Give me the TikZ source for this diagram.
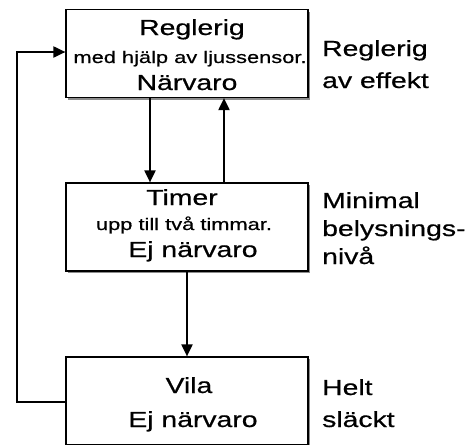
\documentclass[tikz,border=0pt]{standalone}
\usepackage{fontspec}
\usepackage{graphicx}
\setmainfont[FakeBold=0.5]{Liberation Sans}
\usetikzlibrary{arrows.meta,shadows}
\newcommand{\bigtxt}{\fontsize{21.8}{26}\selectfont}
\newcommand{\smalltxt}{\fontsize{16.8}{20}\selectfont}
% the lettering is set a little wider than the plain font
\newcommand{\wide}[1]{\scalebox{1.3}[1]{#1}}
\begin{document}
\begin{tikzpicture}[x=1pt,y=-1pt,
  statebox/.style={draw=black, line width=1.2pt, fill=white, inner sep=0pt,
    minimum width=242pt, minimum height=88pt,
    drop shadow={shadow xshift=2pt, shadow yshift=-2pt, fill=black!45, opacity=1}},
  bigline/.style={anchor=base, inner sep=0pt, font=\bigtxt},
  smallline/.style={anchor=base, inner sep=0pt, font=\smalltxt},
  sidetxt/.style={anchor=base west, inner sep=0pt, font=\bigtxt},
  flow/.style={line width=2pt, -{Triangle[length=12pt,width=11pt]}}]
\useasboundingbox (0,0) rectangle (475,445);
\clip (0,0) rectangle (475,445);

% the three states
\node[statebox] (reg) at (187,53.5) {};
\node[statebox] (tim) at (187,227) {};
\node[statebox] (vila) at (187,401) {};

% texts inside the state boxes
\node[bigline]   (reg1) at (192,35) {\wide{Reglerig}};
\node[smallline] (reg2) at (190,63) {\wide{med hjälp av ljussensor.}};
\node[bigline]   (reg3) at (187,90) {\wide{Närvaro}};

\node[bigline]   (tim1) at (182,205) {\wide{Timer}};
\node[smallline] (tim2) at (184,230) {\wide{upp till två timmar.}};
\node[bigline]   (tim3) at (193,257) {\wide{Ej närvaro}};

\node[bigline]   (vil1) at (189,393) {\wide{Vila}};
\node[bigline]   (vil2) at (193,427) {\wide{Ej närvaro}};

% light levels beside each state
\node[sidetxt] (s11) at (322,56) {\wide{Reglerig}};
\node[sidetxt] (s12) at (322,88) {\wide{av effekt}};
\node[sidetxt] (s21) at (322,208) {\wide{Minimal}};
\node[sidetxt] (s22) at (322,236) {\wide{belysnings-}};
\node[sidetxt] (s23) at (322,264) {\wide{nivå}};
\node[sidetxt] (s31) at (322,395) {\wide{Helt}};
\node[sidetxt] (s32) at (322,427) {\wide{släckt}};

% transitions
\draw[flow] (reg.south -| 150,0) -- (tim.north -| 150,0);
\draw[flow] (tim.north -| 224,0) -- (reg.south -| 224,0);
\draw[flow] (tim.south) -- (vila.north);
\coordinate (fbb) at (17,402);
\coordinate (fbt) at (17,52);
\draw[flow] (vila.west |- fbb) -- (fbb) -- (fbt) -- (reg.west |- fbt);
\end{tikzpicture}
\end{document}
